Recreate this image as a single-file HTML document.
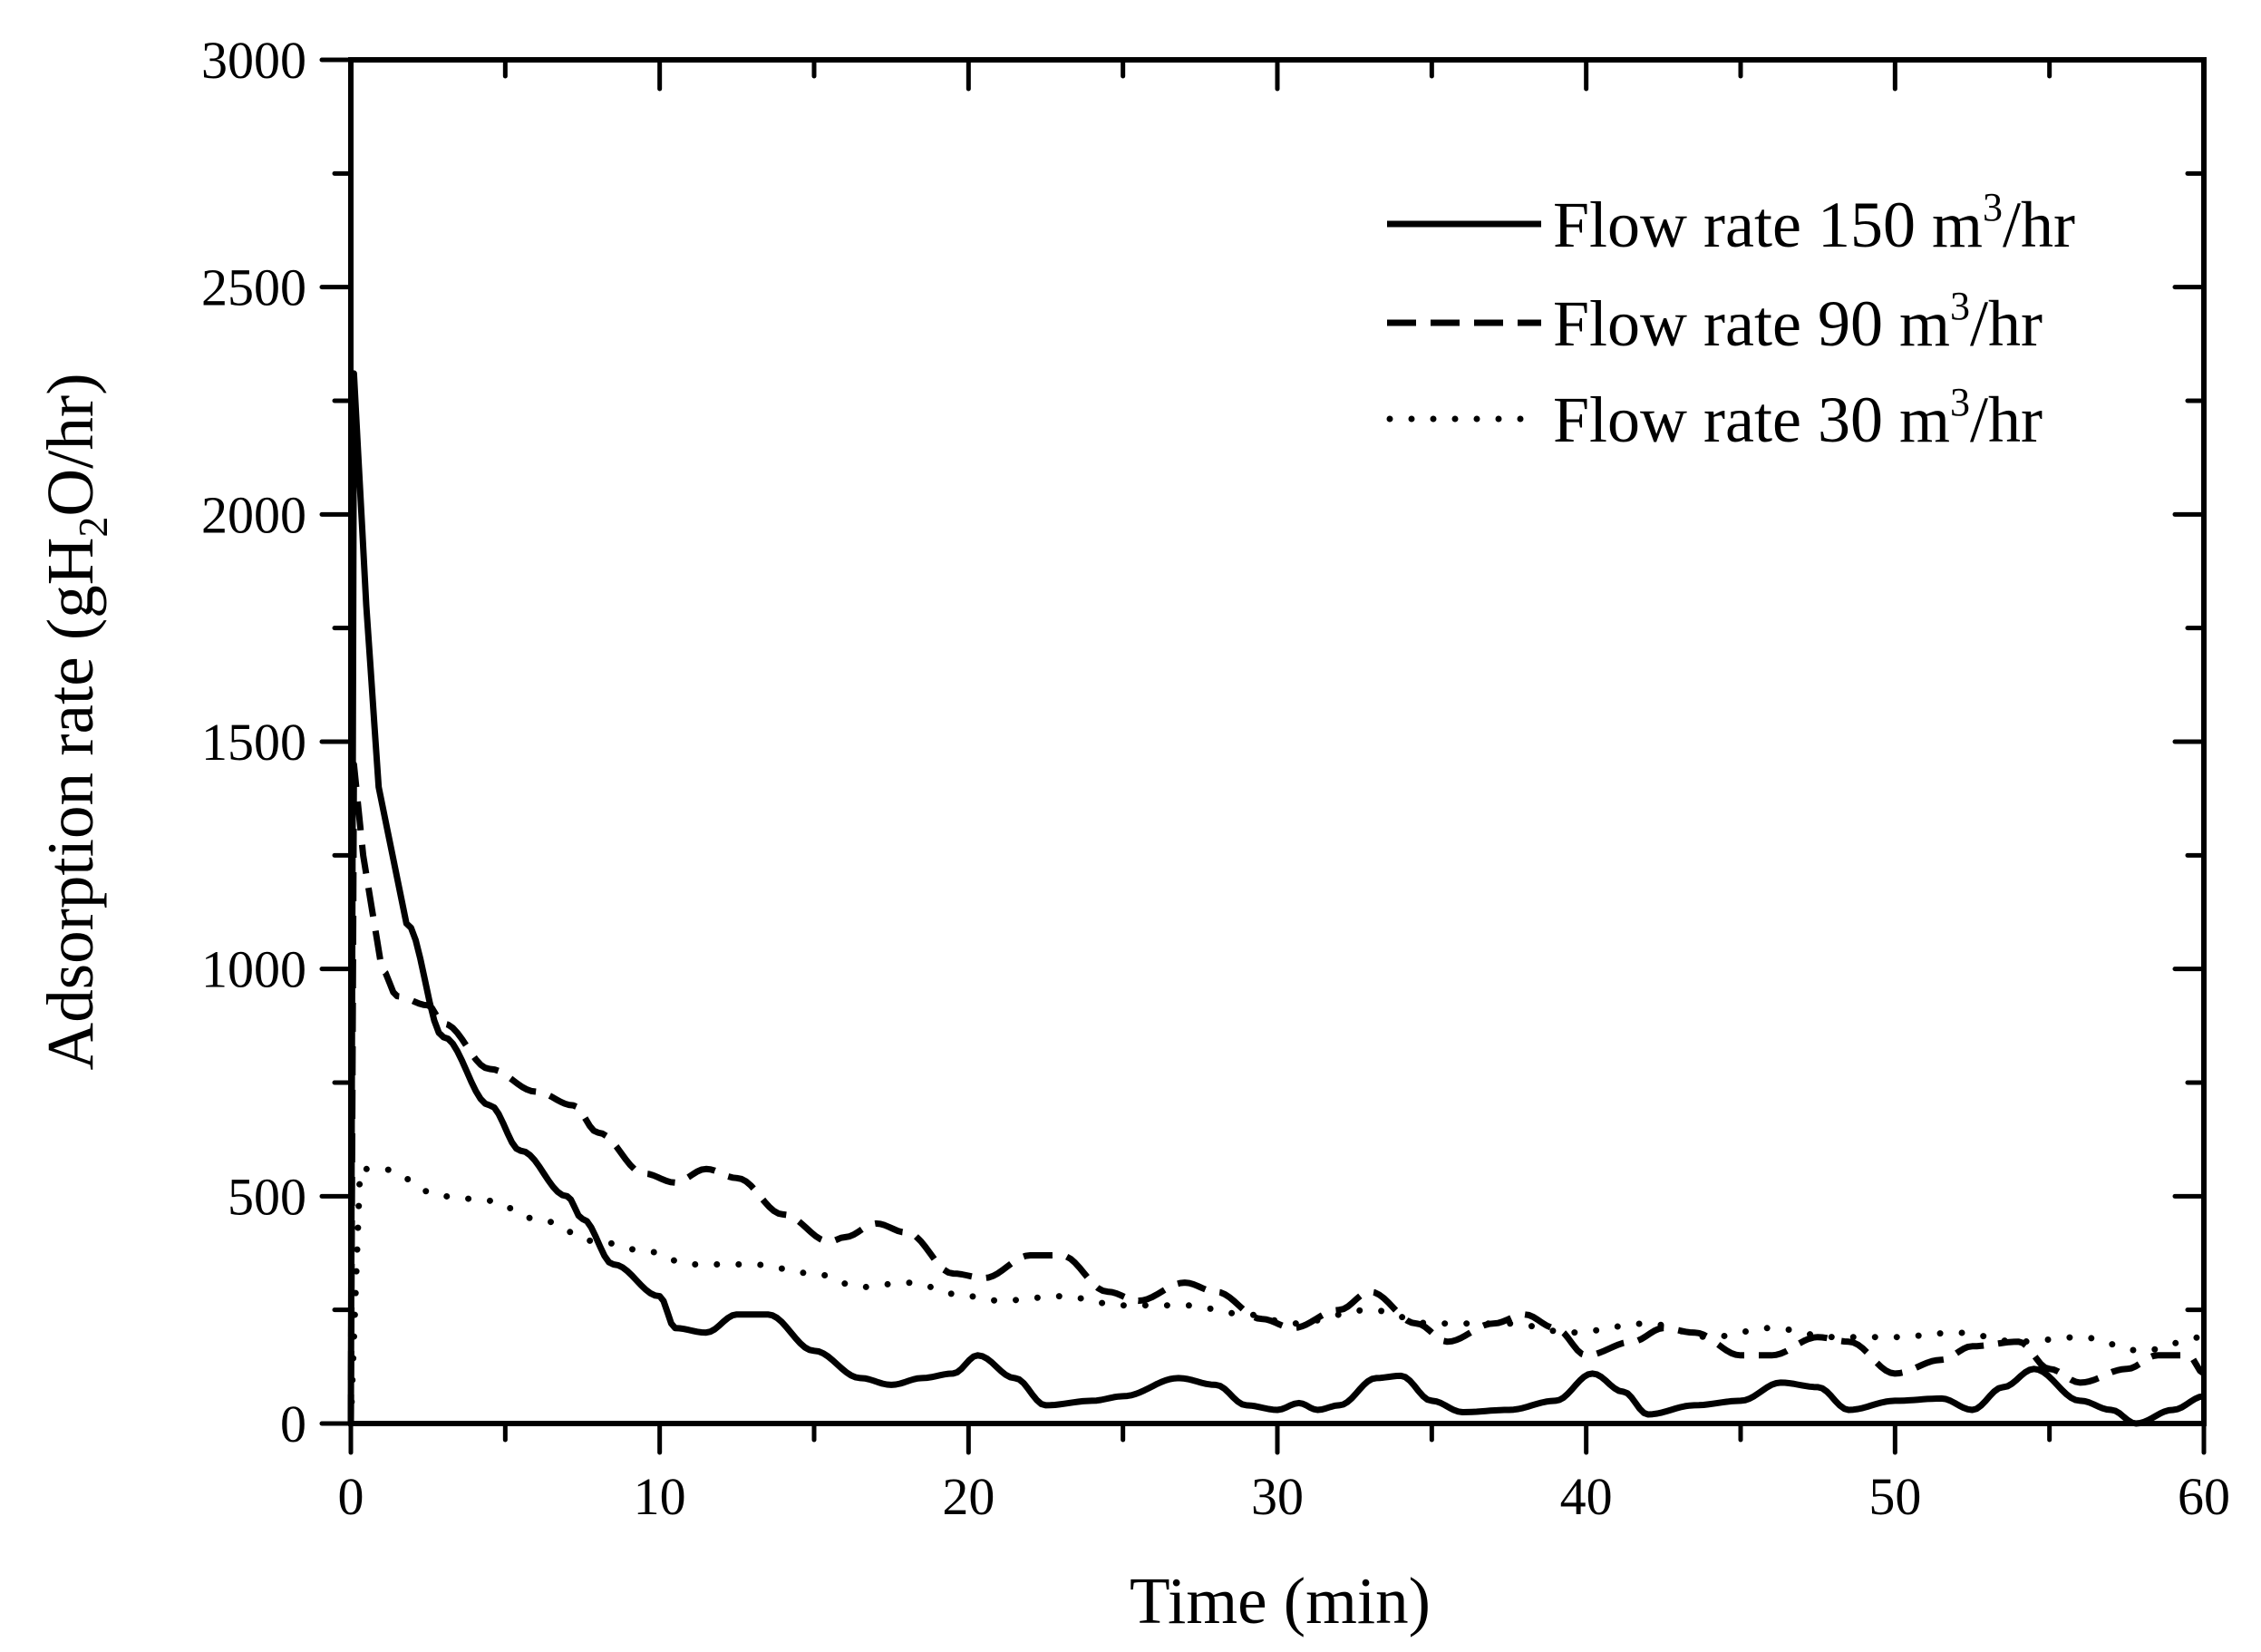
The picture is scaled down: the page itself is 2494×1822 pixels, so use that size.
<!DOCTYPE html>
<html><head><style>body{margin:0;background:#fff}svg{display:block}text{font-family:"Liberation Serif",serif;fill:#000}</style></head>
<body>
<svg id="s" width="2494" height="1822" xmlns="http://www.w3.org/2000/svg">
<g id="ax" stroke="#000" stroke-width="6" fill="none" stroke-linecap="square">
<rect x="387" y="66" width="2044" height="1504"/>
</g>
<g id="tk" stroke="#000" stroke-width="5" stroke-linecap="round"></g>
<g id="lb" font-size="58"></g>
<g id="cv" fill="none" stroke="#000" stroke-width="7" stroke-linejoin="round"></g>
<g stroke="#000" stroke-width="7" fill="none">
<line x1="1530" y1="247" x2="1700" y2="247"/>
<line x1="1530" y1="356" x2="1700" y2="356" stroke-dasharray="32 16"/>
<line x1="1533" y1="462" x2="1700" y2="462" stroke-dasharray="0 24" stroke-linecap="round"/>
</g>
<g font-size="72">
<text x="1713" y="272">Flow rate 150 m<tspan dy="-29" font-size="44">3</tspan><tspan dy="29">/hr</tspan></text>
<text x="1713" y="381">Flow rate 90 m<tspan dy="-29" font-size="44">3</tspan><tspan dy="29">/hr</tspan></text>
<text x="1713" y="487">Flow rate 30 m<tspan dy="-29" font-size="44">3</tspan><tspan dy="29">/hr</tspan></text>
</g>
<text x="1412" y="1790" font-size="73" text-anchor="middle">Time (min)</text>
<text transform="translate(102,796) rotate(-90)" font-size="73" text-anchor="middle">Adsorption rate (gH<tspan dy="16" font-size="46">2</tspan><tspan dy="-16">O/hr)</tspan></text>
</svg>
<script>
const X=t=>387+t*2044/60,Y=v=>1570-v*1504/3000,ns="http://www.w3.org/2000/svg";
const tk=document.getElementById('tk'),lb=document.getElementById('lb'),cv=document.getElementById('cv');
function L(x1,y1,x2,y2){const e=document.createElementNS(ns,'line');e.setAttribute('x1',x1);e.setAttribute('y1',y1);e.setAttribute('x2',x2);e.setAttribute('y2',y2);tk.appendChild(e);}
function T(x,y,s,a){const e=document.createElementNS(ns,'text');e.setAttribute('x',x);e.setAttribute('y',y);e.setAttribute('text-anchor',a);e.textContent=s;lb.appendChild(e);}
for(let t=0;t<=60;t+=5){const x=X(t),maj=t%10==0;L(x,1570,x,1570+(maj?32:18));L(x,66,x,66+(maj?32:18));if(maj)T(x,1670,t,'middle');}
for(let v=0;v<=3000;v+=250){const y=Y(v),maj=v%500==0;L(387,y,387-(maj?32:18),y);L(2431,y,2431-(maj?32:18),y);if(maj)T(338,y+20,v,'end');}
function P(pts,extra){let d=pts.map((p,i)=>(i?'L':'M')+X(p[0]).toFixed(1)+' '+Y(p[1]).toFixed(1)).join('');const e=document.createElementNS(ns,'path');e.setAttribute('d',d);for(const k in extra)e.setAttribute(k,extra[k]);cv.appendChild(e);}
function smooth(pts){const o=[];for(let i=0;i<pts.length-1;i++){const[a,b]=[pts[i],pts[i+1]];const n=Math.max(1,Math.ceil((b[0]-a[0])/0.15));for(let k=0;k<n;k++){const f=k/n,g=(1-Math.cos(Math.PI*f))/2;o.push([a[0]+(b[0]-a[0])*f,a[1]+(b[1]-a[1])*(a[0]<1?f:g)]);}}o.push(pts[pts.length-1]);return o;}
P(smooth([[0,0],[0.1,2310],[0.5,1800],[0.9,1400],[1.8,1100],[3,850],[4.5,700],[5.5,600],[7,500],[7.5,450],[8.5,350],[10,280],[10.5,210],[11.5,200],[12.5,240],[13.5,240],[15,160],[16.5,100],[17.5,85],[18.5,100],[19.5,110],[20.3,150],[21.5,100],[22.5,40],[24,50],[25,60],[26.8,100],[28,85],[29,40],[30,30],[30.7,45],[31.3,30],[32,40],[33.2,100],[34,105],[35,50],[36,25],[37.5,30],[39,50],[40.2,110],[41.2,70],[42,20],[43.5,40],[45,50],[46.3,90],[47.5,80],[48.5,30],[50,50],[51.5,55],[52.5,30],[53.5,80],[54.5,120],[56,50],[57,30],[57.8,0],[59,30],[60,60]]),{});
P(smooth([[0,0],[0.1,1450],[0.4,1250],[1,1000],[1.5,940],[2.5,920],[3,880],[4.5,780],[6,730],[7.2,700],[8,640],[9.5,550],[10.5,530],[11.5,560],[12.5,540],[14,460],[15.5,400],[16,410],[17,440],[18,420],[19.5,330],[20.5,320],[22,370],[23,370],[24.5,290],[25.5,270],[27,310],[28,290],[29.5,230],[30.5,210],[32,250],[33,290],[34.5,220],[35.5,180],[37,220],[38,240],[39,210],[40,150],[41.5,180],[42.5,210],[43.5,200],[45,150],[46,150],[47.5,190],[48.5,180],[50,110],[51.5,140],[52.5,170],[54,180],[55,120],[56,90],[57.5,120],[58.5,150],[59.5,150],[60,110]]),{'stroke-dasharray':'32 16'});
P(smooth([[0,0],[0.3,560],[1,560],[3,500],[4.5,490],[6,450],[8,400],[9.5,380],[11,350],[13,350],[15,330],[16.5,300],[18,310],[20,280],[21,270],[23,280],[25,260],[27,260],[29,240],[30.5,220],[33,250],[35,220],[37.5,220],[39.5,200],[42,220],[44,190],[46,210],[48,190],[50,190],[52,200],[54,180],[56,190],[58,160],[60,190]]),{'stroke-dasharray':'0 24','stroke-linecap':'round'});
</script>
</body></html>
